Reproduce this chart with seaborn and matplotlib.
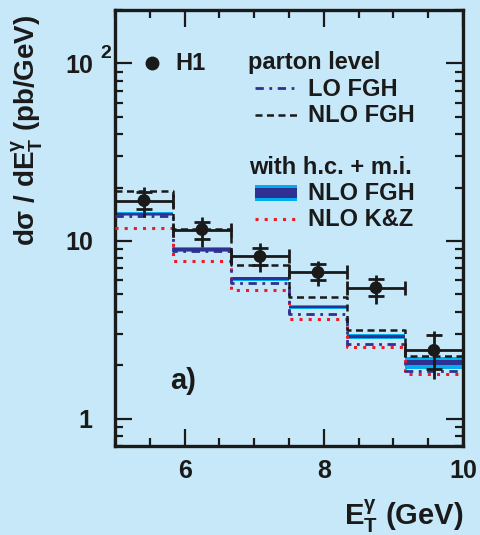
import numpy as np
import pandas as pd
import matplotlib
matplotlib.use("Agg")
import matplotlib.pyplot as plt
import matplotlib.ticker as mticker
from matplotlib.patches import Rectangle
import seaborn as sns

# ---------------- data ----------------
bin_edges = [5.0, 5.833, 6.667, 7.5, 8.333, 9.167, 10.0]
h1_x = [5.417, 6.25, 7.083, 7.917, 8.75, 9.583]
h1_y = [16.9, 11.6, 8.18, 6.65, 5.45, 2.42]
h1_tot_lo = [13.6, 9.3, 6.67, 5.6, 4.43, 1.67]
h1_tot_hi = [20.1, 13.6, 9.7, 7.7, 6.4, 3.13]
h1_stat_lo = [15.2, 10.3, 7.34, 6.0, 4.87, 1.9]
h1_stat_hi = [18.9, 12.8, 9.16, 7.4, 6.07, 2.94]

lo_fgh = [13.9, 8.77, 5.78, 3.89, 2.63, 1.86]
nlo_fgh = [19.1, 11.7, 7.34, 4.82, 3.16, 2.26]
nlo_hc = [14.2, 8.95, 6.12, 4.24, 2.90, 2.06]
nlo_hc_lo = [13.8, 8.70, 5.95, 4.12, 2.82, 1.91]
nlo_hc_hi = [14.6, 9.20, 6.30, 4.36, 2.98, 2.22]
nlo_hc_in_lo = [13.95, 8.80, 6.02, 4.17, 2.85, 1.99]
nlo_hc_in_hi = [14.45, 9.10, 6.23, 4.31, 2.95, 2.14]
nlo_kz = [11.9, 7.7, 5.31, 3.65, 2.54, 1.77]

ytick_vals = [1, 10, 100]
ytick_labels = ["1", "10", "10"]
ytick_top_exponent = "2"
xtick_vals = [6, 8, 10]
xtick_labels = ["6", "8", "10"]

# ---------------- style ----------------
BG = "#c6e8f8"
DARK = "#2e3192"
CYAN = "#00aeef"
RED = "#ed1c24"
INK = "#1a1a1a"

sns.set_theme(style="ticks")
plt.rcParams["font.family"] = ["Liberation Sans", "DejaVu Sans"]
plt.rcParams["font.weight"] = "bold"
plt.rcParams["mathtext.fontset"] = "custom"
plt.rcParams["mathtext.rm"] = "Liberation Sans:bold"
plt.rcParams["mathtext.it"] = "Liberation Sans:bold"
plt.rcParams["mathtext.bf"] = "Liberation Sans:bold"

fig = plt.figure(figsize=(4.8, 5.35), dpi=100, facecolor=BG)
ax = fig.add_axes([115/480, (535-446)/535, 348/480, 436/535])
ax.set_facecolor(BG)

edges = np.array(bin_edges)

def steps(vals):
    return pd.DataFrame({"x": edges, "y": list(vals) + [vals[-1]]})

# NLO FGH with h.c.+m.i. band
for lo, hi, c in [(nlo_hc_lo, nlo_hc_hi, CYAN), (nlo_hc_in_lo, nlo_hc_in_hi, DARK)]:
    ax.fill_between(edges, list(lo) + [lo[-1]], list(hi) + [hi[-1]],
                    step="post", color=c, lw=0, zorder=2)

sns.lineplot(data=steps(nlo_kz), x="x", y="y", ax=ax, color=RED, lw=2.2,
             linestyle=(0, (1, 2)), drawstyle="steps-post", sort=False,
             estimator=None, zorder=3)
sns.lineplot(data=steps(lo_fgh), x="x", y="y", ax=ax, color=DARK, lw=2.0,
             linestyle=(0, (3, 2, 1, 2)), drawstyle="steps-post", sort=False,
             estimator=None, zorder=3)
sns.lineplot(data=steps(nlo_fgh), x="x", y="y", ax=ax, color=INK, lw=1.8,
             linestyle=(0, (2.8, 1.8)), drawstyle="steps-post", sort=False,
             estimator=None, zorder=3)

# H1 data
hx = np.array(h1_x)
hy = np.array(h1_y)
half = np.diff(edges) / 2
ax.errorbar(hx, hy, xerr=half, fmt="none", ecolor=INK, elinewidth=2.0,
            capsize=5, capthick=2.0, zorder=5)
ax.errorbar(hx, hy, yerr=[hy - np.array(h1_tot_lo), np.array(h1_tot_hi) - hy],
            fmt="none", ecolor=INK, elinewidth=2.0, capsize=0, zorder=5)
ax.errorbar(hx, hy, yerr=[hy - np.array(h1_stat_lo), np.array(h1_stat_hi) - hy],
            fmt="none", ecolor=INK, elinewidth=0, capsize=6, capthick=2.0, zorder=5)
sns.scatterplot(x=hx, y=hy, ax=ax, color=INK, s=85, edgecolor="none", zorder=6)

# axes
ax.set_yscale("log")
ax.set_xlim(5, 10)
ax.set_ylim(0.7, 200)
ax.xaxis.set_major_locator(mticker.FixedLocator(xtick_vals))
ax.xaxis.set_major_formatter(mticker.FixedFormatter(xtick_labels))
ax.xaxis.set_minor_locator(mticker.MultipleLocator(0.5))
ax.yaxis.set_major_locator(mticker.FixedLocator(ytick_vals))
ax.yaxis.set_major_formatter(mticker.FixedFormatter(ytick_labels))
ax.yaxis.set_minor_locator(mticker.LogLocator(base=10, subs=np.arange(2, 10)))
ax.yaxis.set_minor_formatter(mticker.NullFormatter())
ax.tick_params(which="both", direction="in", top=True, right=True, width=1.6,
               color=INK, labelsize=18, labelcolor=INK)
ax.tick_params(which="major", length=12)
ax.tick_params(which="minor", length=6)
ax.tick_params(axis="x", pad=9)
ax.tick_params(axis="y", pad=16)
for s in ax.spines.values():
    s.set_linewidth(2.4)
    s.set_color(INK)
ax.set_xlabel("")
ax.set_ylabel("")

# exponent of the 10^2 tick label
fig.text(106/480, 1 - 54/535, ytick_top_exponent, ha="center", va="center",
         fontsize=14, color=INK)

fig.text(27/480, 1 - 130/535, r"d$\sigma$ / dE$_{\mathrm{T}}^{\gamma}$ (pb/GeV)",
         rotation=90, ha="center", va="center", fontsize=20, color=INK)
fig.text(463/480, 1 - 516/535, r"E$_{\mathrm{T}}^{\gamma}$ (GeV)",
         ha="right", va="center", fontsize=21, color=INK)

# legend (manual)
def fx(px):
    return (px - 115) / 348
def fy(py):
    return (446 - py) / 436

T = ax.transAxes
ax.plot([fx(152)], [fy(63)], "o", color=INK, ms=9, transform=T, clip_on=False)
ax.text(fx(175), fy(63), "H1", transform=T, fontsize=17, va="center", color=INK)
ax.text(fx(248), fy(63), "parton level", transform=T, fontsize=17, va="center", color=INK)
ax.plot([fx(255), fx(297)], [fy(88), fy(88)], color=DARK, lw=2.0,
        linestyle=(0, (3, 2, 1, 2)), transform=T)
ax.text(fx(308), fy(89), "LO FGH", transform=T, fontsize=17, va="center", color=INK)
ax.plot([fx(255), fx(297)], [fy(115), fy(115)], color=INK, lw=1.8,
        linestyle=(0, (2.8, 1.8)), transform=T)
ax.text(fx(308), fy(115), "NLO FGH", transform=T, fontsize=17, va="center", color=INK)
ax.text(fx(249), fy(168), "with h.c. + m.i.", transform=T, fontsize=17, va="center", color=INK)
ax.add_patch(Rectangle((fx(255), fy(201)), fx(297) - fx(255), fy(185) - fy(201),
                       transform=T, color=CYAN, lw=0))
ax.add_patch(Rectangle((fx(255), fy(197.5)), fx(297) - fx(255), fy(188.5) - fy(197.5),
                       transform=T, color=DARK, lw=0))
ax.text(fx(308), fy(193), "NLO FGH", transform=T, fontsize=17, va="center", color=INK)
ax.plot([fx(255), fx(297)], [fy(219), fy(219)], color=RED, lw=2.2,
        linestyle=(0, (1, 2)), transform=T)
ax.text(fx(308), fy(219), "NLO K&Z", transform=T, fontsize=17, va="center", color=INK)
ax.text(fx(170), fy(381), "a)", transform=T, fontsize=21, va="center", color=INK)

fig.savefig("out.png", dpi=100, facecolor=BG)
